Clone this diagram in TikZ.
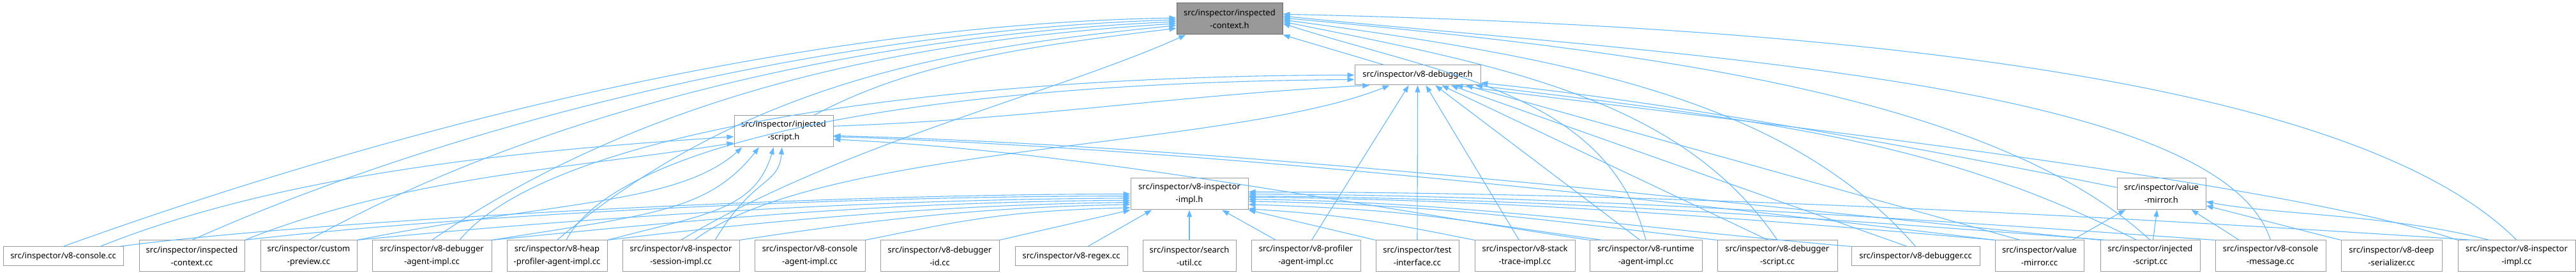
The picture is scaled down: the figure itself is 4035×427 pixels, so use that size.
\documentclass[tikz,border=0pt]{standalone}
\usepackage{fontspec}
\setmainfont{Noto Sans}
\usetikzlibrary{arrows.meta}
\definecolor{edgeblue}{HTML}{63B8FF}
\definecolor{boxgray}{HTML}{999999}
\definecolor{rootline}{HTML}{666666}
\tikzset{
  file/.style={draw=boxgray, fill=white, line width=1pt, align=center,
    inner sep=0pt, minimum height=49pt, font=\fontsize{13}{20}\selectfont},
  fileone/.style={file, minimum height=30pt},
  rootfile/.style={file, fill=boxgray, draw=rootline},
  incl/.style={draw=edgeblue, line width=1.1pt,
    -{Triangle[length=11pt,width=8pt]}},
}

\begin{document}
\begin{tikzpicture}[x=1pt,y=1pt]
  \useasboundingbox (0,0) rectangle (4035,-427);

  % headers
  \node [rootfile, minimum width=166pt] (ctxh) at (1926,-29.5)
  {src/inspector/inspected\\-context.h};
  \node [fileone, minimum width=197pt, minimum height=31pt] (dbgh) at (2220.5,-117.5)
  {src/inspector/v8-debugger.h};
  \node [file, minimum width=155pt] (ish) at (1227.5,-205.5)
  {src/inspector/injected\\-script.h};
  \node [file, minimum width=184pt] (implh) at (1863,-303.5)
  {src/inspector/v8-inspector\\-impl.h};
  \node [file, minimum width=139pt] (vmh) at (3385.5,-303)
  {src/inspector/value\\-mirror.h};

  % sources
  \node [fileone, minimum width=188pt] (console) at (99,-401)
  {src/inspector/v8-console.cc};
  \node [file, minimum width=165pt] (ictxcc) at (300.5,-400.5)
  {src/inspector/inspected\\-context.cc};
  \node [file, minimum width=151pt] (preview) at (483.5,-400.5)
  {src/inspector/custom\\-preview.cc};
  \node [file, minimum width=187pt] (dbgagent) at (676.5,-400.5)
  {src/inspector/v8-debugger\\-agent-impl.cc};
  \node [file, minimum width=157pt] (heap) at (872.5,-400.5)
  {src/inspector/v8-heap\\-profiler-agent-impl.cc};
  \node [file, minimum width=183pt] (session) at (1066.5,-400.5)
  {src/inspector/v8-inspector\\-session-impl.cc};
  \node [file, minimum width=173pt] (conagent) at (1268.5,-400.5)
  {src/inspector/v8-console\\-agent-impl.cc};
  \node [file, minimum width=186pt] (dbgid) at (1472,-400.5)
  {src/inspector/v8-debugger\\-id.cc};
  \node [fileone, minimum width=176pt] (regex) at (1678,-401)
  {src/inspector/v8-regex.cc};
  \node [file, minimum width=146pt] (search) at (1863,-400.5)
  {src/inspector/search\\-util.cc};
  \node [file, minimum width=171pt] (profiler) at (2045.5,-400.5)
  {src/inspector/v8-profiler\\-agent-impl.cc};
  \node [file, minimum width=130pt] (test) at (2220,-400.5)
  {src/inspector/test\\-interface.cc};
  \node [file, minimum width=157pt] (stack) at (2388.5,-400.5)
  {src/inspector/v8-stack\\-trace-impl.cc};
  \node [file, minimum width=176pt] (runtime) at (2578,-400.5)
  {src/inspector/v8-runtime\\-agent-impl.cc};
  \node [file, minimum width=188pt] (dbgscript) at (2784,-400.5)
  {src/inspector/v8-debugger\\-script.cc};
  \node [fileone, minimum width=201pt] (dbgcc) at (3000.5,-401)
  {src/inspector/v8-debugger.cc};
  \node [file, minimum width=139pt] (vmcc) at (3194.5,-400.5)
  {src/inspector/value\\-mirror.cc};
  \node [file, minimum width=156pt] (iscc) at (3368,-400.5)
  {src/inspector/injected\\-script.cc};
  \node [file, minimum width=173pt] (conmsg) at (3556.5,-400.5)
  {src/inspector/v8-console\\-message.cc};
  \node [file, minimum width=158pt] (deep) at (3746,-400.5)
  {src/inspector/v8-deep\\-serializer.cc};
  \node [file, minimum width=184pt] (implcc) at (3942,-400.5)
  {src/inspector/v8-inspector\\-impl.cc};

  % into inspected-context.h
  \draw [incl] (console.north) .. controls +(500,180) and +(-600,-10) .. (ctxh.179);
  \draw [incl] (ictxcc.north) .. controls +(450,200) and +(-500,-15) .. (ctxh.181);
  \draw [incl] (preview.north) .. controls +(400,220) and +(-450,-20) .. (ctxh.183);
  \draw [incl] (dbgagent.north) .. controls +(350,240) and +(-400,-25) .. (ctxh.185);
  \draw [incl] (heap.north) .. controls +(300,250) and +(-350,-35) .. (ctxh.187);
  \draw [incl] (ish.28) .. controls +(150,80) and +(-250,-30) .. (ctxh.190);
  \draw [incl] (session.north) .. controls +(250,150) and +(-200,-90) .. (ctxh.200);
  \draw [incl] (dbgh.163) -- (ctxh.south east);
  \draw [incl] (runtime.north) .. controls +(-60,230) and +(250,-80) .. (ctxh.355);
  \draw [incl] (dbgscript.north) .. controls +(-150,220) and +(350,-70) .. (ctxh.357);
  \draw [incl] (dbgcc.north) .. controls +(-200,230) and +(450,-60) .. (ctxh.359);
  \draw [incl] (iscc.north) .. controls +(-250,230) and +(550,-50) .. (ctxh.1);
  \draw [incl] (conmsg.north) .. controls +(-80,250) and +(600,-60) .. (ctxh.3);
  \draw [incl] (implcc.north) .. controls +(-250,250) and +(900,-20) .. (ctxh.5);

  % into v8-debugger.h
  \draw [incl] (dbgagent.30) .. controls +(150,180) and +(-600,0) .. (dbgh.180);
  \draw [incl] (heap.60) .. controls +(80,150) and +(-700,-5) .. (dbgh.184);
  \draw [incl] (ish.6) .. controls +(300,10) and +(-300,-15) .. (dbgh.192);
  \draw [incl] (session.50) .. controls +(200,150) and +(-250,-100) .. (dbgh.200);
  \draw [incl] (profiler.70) -- (dbgh.229);
  \draw [incl] (test.north) -- (dbgh.south);
  \draw [incl] (stack.110) -- (dbgh.309);
  \draw [incl] (runtime.110) -- (dbgh.330);
  \draw [incl] (dbgscript.120) -- (dbgh.337);
  \draw [incl] (dbgcc.130) -- (dbgh.343);
  \draw [incl] (vmcc.140) -- (dbgh.348);
  \draw [incl] (iscc.130) .. controls +(-300,150) and +(500,-60) .. (dbgh.350);
  \draw [incl] (implcc.north west) .. controls +(-300,100) and +(300,-40) .. (dbgh.345);
  \draw [incl] (vmh.172) .. controls +(-300,60) and +(300,-30) .. (dbgh.353);

  % into injected-script.h
  \draw [incl] (console.15) .. controls +(300,120) and +(-300,-20) .. (ish.186);
  \draw [incl] (ictxcc.north east) .. controls +(250,100) and +(-250,-40) .. (ish.193);
  \draw [incl] (preview.north east) .. controls +(300,60) and +(-100,-90) .. (ish.201);
  \draw [incl] (dbgagent.north east) .. controls +(250,40) and +(-80,-100) .. (ish.213);
  \draw [incl] (heap.north east) .. controls +(150,40) and +(-30,-100) .. (ish.238);
  \draw [incl] (session.25) .. controls +(60,100) and +(-5,-60) .. (ish.264);
  \draw [incl] (runtime.north west) .. controls +(-400,60) and +(400,-20) .. (ish.351);
  \draw [incl] (vmcc.north west) .. controls +(-500,60) and +(600,-20) .. (ish.354);
  \draw [incl] (iscc.north west) .. controls +(-600,60) and +(600,-15) .. (ish.355);

  % into v8-inspector-impl.h
  \draw [incl] (console.10) .. controls +(300,40) and +(-500,0) .. (implh.180);
  \draw [incl] (ictxcc.north east) .. controls +(300,35) and +(-500,0) .. (implh.182);
  \draw [incl] (preview.north east) .. controls +(300,30) and +(-450,-2) .. (implh.184);
  \draw [incl] (dbgagent.north east) .. controls +(300,30) and +(-400,-3) .. (implh.186);
  \draw [incl] (heap.north east) .. controls +(250,30) and +(-300,-4) .. (implh.188);
  \draw [incl] (session.north east) .. controls +(200,30) and +(-250,-5) .. (implh.190);
  \draw [incl] (conagent.north east) .. controls +(150,30) and +(-200,-5) .. (implh.193);
  \draw [incl] (dbgid.north east) -- (implh.south west);
  \draw [incl] (regex.31) -- (implh.203);
  \draw [incl] (search.north) -- (implh.south);
  \draw [incl] (profiler.152) -- (implh.334);
  \draw [incl] (test.north west) -- (implh.south east);
  \draw [incl] (stack.north west) .. controls +(-150,30) and +(150,-10) .. (implh.346);
  \draw [incl] (runtime.160) .. controls +(-250,35) and +(250,-8) .. (implh.350);
  \draw [incl] (dbgscript.north west) .. controls +(-300,35) and +(300,-6) .. (implh.353);
  \draw [incl] (dbgcc.north west) .. controls +(-350,30) and +(350,-5) .. (implh.355);
  \draw [incl] (vmcc.160) .. controls +(-400,35) and +(400,-4) .. (implh.357);
  \draw [incl] (iscc.160) .. controls +(-450,35) and +(450,-3) .. (implh.358);
  \draw [incl] (conmsg.north west) .. controls +(-500,35) and +(500,-2) .. (implh.0);
  \draw [incl] (implcc.160) .. controls +(-600,40) and +(600,0) .. (implh.2);

  % into value-mirror.h
  \draw [incl] (vmcc.26) -- (vmh.204);
  \draw [incl] (iscc.80) -- (vmh.255);
  \draw [incl] (conmsg.153) -- (vmh.332);
  \draw [incl] (deep.north west) .. controls +(-80,20) and +(60,-15) .. (vmh.345);
  \draw [incl] (implcc.150) .. controls +(-150,40) and +(100,-20) .. (vmh.350);
\end{tikzpicture}
\end{document}
